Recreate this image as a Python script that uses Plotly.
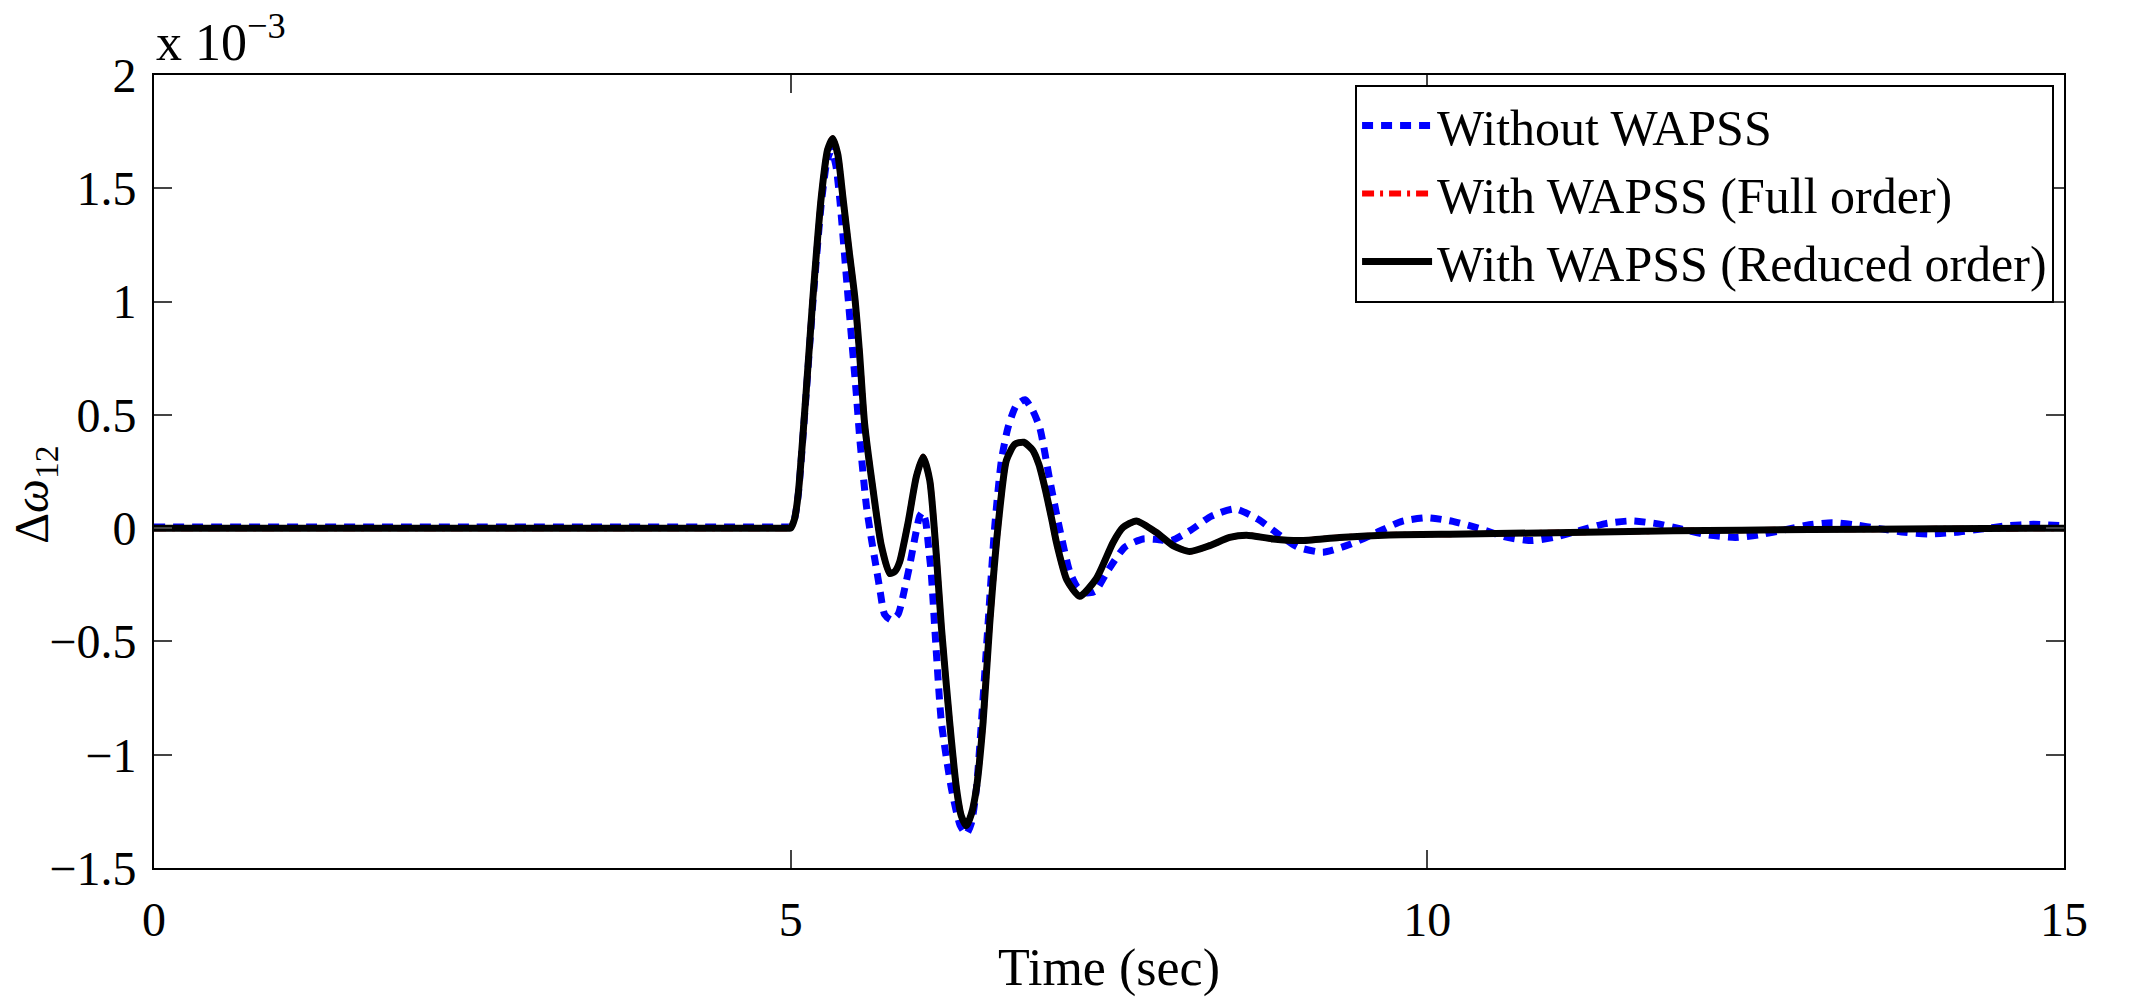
import plotly.graph_objects as go

# Time (s) and Δω12 (in units of 1e-3)
t_black = [0, 2, 4.98, 5.0, 5.03, 5.06, 5.12, 5.175, 5.24, 5.29, 5.33, 5.37, 5.411, 5.46, 5.503,
           5.54, 5.581, 5.647, 5.712, 5.778, 5.82, 5.856, 5.922, 5.987, 6.04, 6.092, 6.144, 6.184,
           6.249, 6.302, 6.34, 6.38, 6.42, 6.459, 6.511, 6.563, 6.629, 6.694, 6.76, 6.83, 6.90,
           6.95, 7.0, 7.05, 7.09, 7.17, 7.27, 7.401, 7.532, 7.61, 7.715, 7.872, 8.003, 8.134,
           8.291, 8.448, 8.58, 8.789, 9.0, 9.31, 9.7, 10.3, 11.0, 11.93, 13.0, 14.0, 15.0]
v_black = [0, 0, 0, 0.0, 0.04, 0.155, 0.59, 1.02, 1.46, 1.67, 1.72, 1.65, 1.457, 1.22, 1.023,
           0.78, 0.459, 0.169, -0.077, -0.2, -0.19, -0.149, 0.024, 0.227, 0.314, 0.212, -0.12, -0.439,
           -0.858, -1.148, -1.27, -1.314, -1.26, -1.148, -0.858, -0.424, 0.01, 0.299, 0.37, 0.379, 0.345,
           0.28, 0.17, 0.04, -0.07, -0.23, -0.301, -0.222, -0.063, 0.003, 0.032, -0.019, -0.077, -0.103,
           -0.077, -0.041, -0.031, -0.048, -0.055, -0.041, -0.03, -0.026, -0.02, -0.012, -0.006, -0.003, 0.0]

t_red = list(t_black)
v_red = [0, 0, 0, 0.0, 0.04, 0.155, 0.59, 1.02, 1.46, 1.67, 1.72, 1.65, 1.457, 1.22, 1.023,
         0.78, 0.459, 0.169, -0.077, -0.2, -0.19, -0.149, 0.024, 0.227, 0.314, 0.212, -0.12, -0.439,
         -0.858, -1.148, -1.27, -1.314, -1.26, -1.148, -0.858, -0.424, 0.01, 0.299, 0.37, 0.379, 0.345,
         0.28, 0.17, 0.04, -0.07, -0.23, -0.301, -0.222, -0.063, 0.003, 0.032, -0.019, -0.077, -0.103,
         -0.077, -0.041, -0.031, -0.048, -0.055, -0.041, -0.03, -0.026, -0.02, -0.012, -0.006, -0.003, 0.0]

t_blue = [0, 2, 4.98, 5.0, 5.03, 5.06, 5.12, 5.175, 5.24, 5.285, 5.32, 5.355, 5.385, 5.45, 5.516,
          5.542, 5.595, 5.634, 5.673, 5.699, 5.738, 5.79, 5.843, 5.896, 5.935, 5.974, 6.013, 6.035,
          6.06, 6.087, 6.105, 6.135, 6.184, 6.262, 6.33, 6.38, 6.42, 6.459, 6.498, 6.55, 6.603,
          6.655, 6.707, 6.77, 6.84, 6.90, 6.956, 7.035, 7.113, 7.192, 7.25, 7.31, 7.388, 7.493,
          7.624, 7.768, 7.88, 7.99, 8.134, 8.305, 8.488, 8.671, 8.828, 8.985, 9.181, 9.4, 9.6,
          9.8, 10.0, 10.2, 10.4, 10.62, 10.82, 11.0, 11.2, 11.4, 11.6, 11.8, 12.0, 12.2, 12.42,
          12.6, 12.8, 13.0, 13.18, 13.35, 13.55, 13.75, 13.94, 14.15, 14.35, 14.55, 14.76, 15.0]
v_blue = [0.005, 0.005, 0.005, 0.005, 0.04, 0.15, 0.58, 1.0, 1.43, 1.62, 1.67, 1.6, 1.457, 1.023, 0.589,
          0.4, 0.097, -0.048, -0.178, -0.265, -0.381, -0.405, -0.381, -0.265, -0.164, -0.048, 0.053, 0.07,
          0.03, -0.106, -0.207, -0.47, -0.858, -1.148, -1.31, -1.35, -1.30, -1.148, -0.858, -0.424, 0.01,
          0.299, 0.444, 0.54, 0.567, 0.52, 0.444, 0.212, -0.005, -0.193, -0.26, -0.285, -0.28, -0.186,
          -0.084, -0.048, -0.05, -0.055, -0.012, 0.053, 0.085, 0.039, -0.026, -0.084, -0.106, -0.07, -0.02,
          0.03, 0.046, 0.03, 0.0, -0.04, -0.055, -0.04, -0.01, 0.02, 0.032, 0.02, -0.005, -0.03, -0.041,
          -0.03, -0.008, 0.015, 0.024, 0.015, -0.002, -0.018, -0.026, -0.018, -0.004, 0.01, 0.017, 0.01]

x_ticks = [0, 5, 10, 15]
y_ticks = [-1.5, -1, -0.5, 0, 0.5, 1, 1.5, 2]
y_ticktext = ["\u22121.5", "\u22121", "\u22120.5", "0", "0.5", "1", "1.5", "2"]

FONT = "Liberation Serif"

fig = go.Figure()
fig.add_trace(go.Scatter(x=t_blue, y=v_blue, mode="lines", name="Without WAPSS",
                         line=dict(color="#0000ff", width=7, dash="11px,8px", shape="spline", smoothing=0.6)))
fig.add_trace(go.Scatter(x=t_red, y=v_red, mode="lines", name="With WAPSS (Full order)",
                         line=dict(color="#ff0000", width=6, dash="12px,6px,3px,6px", shape="spline", smoothing=0.6)))
fig.add_trace(go.Scatter(x=t_black, y=v_black, mode="lines", name="With WAPSS (Reduced order)",
                         line=dict(color="#000000", width=7, shape="spline", smoothing=0.6)))

fig.update_layout(
    width=2136, height=998,
    margin=dict(l=154, r=72, t=75, b=117),
    plot_bgcolor="white", paper_bgcolor="white",
    font=dict(family=FONT, size=48, color="black"),
    showlegend=True,
    legend=dict(x=0.9948, y=0.988, xanchor="right", yanchor="top",
                bgcolor="white", bordercolor="black", borderwidth=2,
                font=dict(family=FONT, size=50), itemwidth=70,
                tracegroupgap=0),
    xaxis=dict(range=[0, 15], tickvals=x_ticks, ticktext=[str(v) for v in x_ticks],
               showgrid=False, zeroline=False, showline=True, linecolor="black", linewidth=2,
               mirror="ticks", ticks="inside", ticklen=18, tickwidth=1.5, tickcolor="#444",
               ticklabelstandoff=8, tickfont=dict(family=FONT, size=48),
               title=dict(text="Time (sec)", font=dict(family=FONT, size=52), standoff=4)),
    yaxis=dict(range=[-1.5, 2], tickvals=y_ticks, ticktext=y_ticktext,
               showgrid=False, zeroline=False, showline=True, linecolor="black", linewidth=2,
               mirror="ticks", ticks="inside", ticklen=18, tickwidth=1.5, tickcolor="#444",
               ticklabelstandoff=6, tickfont=dict(family=FONT, size=48)),
    annotations=[
        dict(text="x 10<sup>\u22123</sup>", xref="paper", yref="paper", x=0, y=1,
             xanchor="left", yanchor="bottom", showarrow=False, yshift=2,
             font=dict(family=FONT, size=52)),
        dict(text="\u0394<i>\u03c9</i><sub>12</sub>", xref="paper", yref="paper",
             x=-0.062, y=0.47, xanchor="center", yanchor="middle", textangle=-90,
             showarrow=False, font=dict(family=FONT, size=48)),
    ],
)

fig.write_html("out.html")
